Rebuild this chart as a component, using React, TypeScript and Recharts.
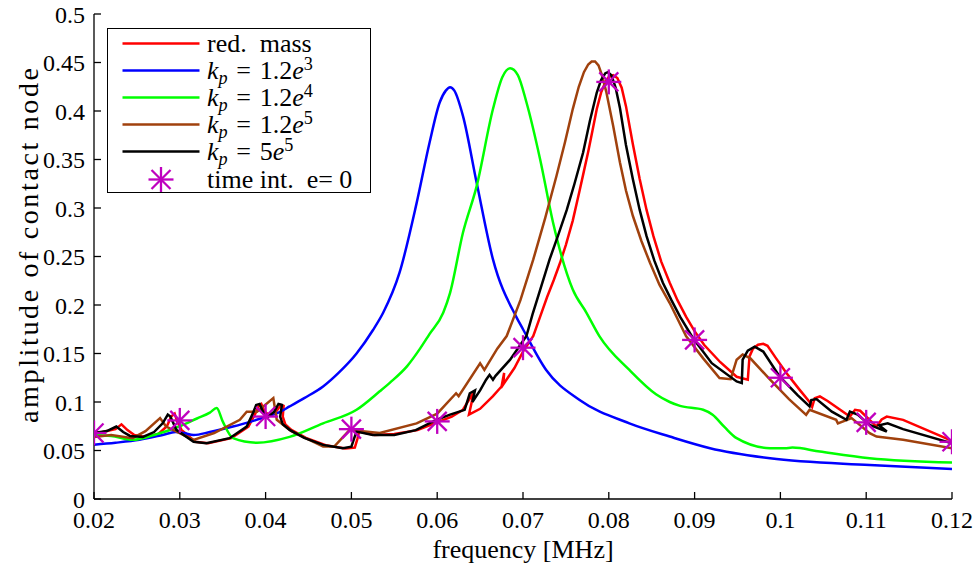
import React from 'react';
import { ComposedChart, Line, Scatter, XAxis, YAxis } from 'recharts';

const FONT = "'Liberation Serif', 'DejaVu Serif', serif";

// [frequency MHz, amplitude]
const redMass: [number, number][] = [
  [0.02, 0.068], [0.021, 0.069], [0.0225, 0.072], [0.0232, 0.077], [0.0239, 0.071], [0.0247, 0.066],
  [0.026, 0.064], [0.0275, 0.067], [0.0285, 0.075], [0.029, 0.085], [0.0294, 0.088], [0.0297, 0.08],
  [0.0302, 0.0713], [0.0318, 0.059], [0.0333, 0.0575], [0.036, 0.0627], [0.038, 0.0747], [0.0388, 0.088],
  [0.0392, 0.096], [0.0395, 0.098], [0.0399, 0.09], [0.0405, 0.086], [0.0412, 0.09], [0.0418, 0.097],
  [0.0421, 0.096], [0.042, 0.085], [0.0423, 0.077], [0.043, 0.0713], [0.0447, 0.063], [0.047, 0.0555],
  [0.0493, 0.052], [0.0504, 0.053], [0.0507, 0.062], [0.0509, 0.0695], [0.0527, 0.066], [0.055, 0.067],
  [0.0577, 0.071], [0.06, 0.079], [0.0617, 0.085], [0.063, 0.092], [0.0643, 0.111], [0.0637, 0.087],
  [0.065, 0.093], [0.0665, 0.106], [0.0675, 0.116], [0.0678, 0.13], [0.0677, 0.118], [0.069, 0.135],
  [0.07, 0.152], [0.0712, 0.168], [0.072, 0.188], [0.0728, 0.208], [0.0736, 0.226], [0.0743, 0.243],
  [0.075, 0.262], [0.0758, 0.287], [0.0766, 0.318], [0.0771, 0.338], [0.0776, 0.358], [0.0781, 0.38],
  [0.0786, 0.402], [0.0791, 0.419], [0.0796, 0.43], [0.08, 0.435], [0.0805, 0.437], [0.081, 0.434],
  [0.0815, 0.424], [0.082, 0.405], [0.0828, 0.366], [0.0836, 0.33], [0.0844, 0.298], [0.0852, 0.271],
  [0.0861, 0.245], [0.0871, 0.223], [0.088, 0.205], [0.089, 0.188], [0.09, 0.173], [0.0911, 0.159],
  [0.093, 0.141], [0.0949, 0.126], [0.0962, 0.123], [0.0964, 0.147], [0.0968, 0.155], [0.0974, 0.159],
  [0.098, 0.16], [0.0985, 0.158], [0.0995, 0.145], [0.1007, 0.13], [0.1022, 0.113], [0.1034, 0.1],
  [0.1037, 0.095], [0.104, 0.104], [0.1046, 0.1057], [0.1055, 0.101], [0.1081, 0.085], [0.1087, 0.092],
  [0.1093, 0.091], [0.1112, 0.0747], [0.1118, 0.082], [0.1124, 0.085], [0.1143, 0.0816], [0.12, 0.06],
];

const kp12e3: [number, number][] = [
  [0.02, 0.056], [0.0225, 0.058], [0.0253, 0.061], [0.028, 0.066], [0.0295, 0.069], [0.0305, 0.068],
  [0.0316, 0.066], [0.0335, 0.069], [0.0362, 0.0747], [0.038, 0.079], [0.0399, 0.0844], [0.0415, 0.089],
  [0.0428, 0.0954], [0.0445, 0.104], [0.0467, 0.116], [0.0485, 0.13], [0.0506, 0.15], [0.0525, 0.174],
  [0.0537, 0.192], [0.0556, 0.233], [0.0576, 0.305], [0.0591, 0.367], [0.0603, 0.409], [0.061, 0.421],
  [0.0615, 0.4245], [0.062, 0.421], [0.063, 0.395], [0.0646, 0.326], [0.0665, 0.247], [0.0692, 0.188],
  [0.07, 0.175], [0.0727, 0.133], [0.0766, 0.102], [0.0824, 0.078], [0.0871, 0.0644], [0.0918, 0.0524],
  [0.0988, 0.042], [0.1104, 0.0351], [0.12, 0.031],
];

const kp12e4: [number, number][] = [
  [0.02, 0.066], [0.022, 0.065], [0.0245, 0.061], [0.027, 0.066], [0.03, 0.075], [0.032, 0.083],
  [0.0335, 0.089], [0.0343, 0.0937], [0.035, 0.08], [0.0362, 0.0627], [0.039, 0.058], [0.0428, 0.064],
  [0.0467, 0.078], [0.0506, 0.092], [0.0533, 0.111], [0.0545, 0.12], [0.0565, 0.137], [0.058, 0.155],
  [0.0591, 0.17], [0.0607, 0.192], [0.0615, 0.2125], [0.063, 0.2745], [0.0646, 0.3226], [0.0665, 0.402],
  [0.0676, 0.435], [0.0685, 0.444], [0.0694, 0.437], [0.0704, 0.409], [0.072, 0.35], [0.0735, 0.285],
  [0.0758, 0.216], [0.0774, 0.192], [0.0789, 0.168], [0.0824, 0.133], [0.0855, 0.108], [0.0871, 0.1],
  [0.0883, 0.096], [0.091, 0.092], [0.0921, 0.0868], [0.0935, 0.074], [0.0949, 0.0627], [0.0988, 0.0524],
  [0.1005, 0.0522], [0.1014, 0.053], [0.1046, 0.0489], [0.1104, 0.042], [0.12, 0.0375],
];

const kp12e5: [number, number][] = [
  [0.02, 0.064], [0.022, 0.066], [0.0245, 0.0627], [0.026, 0.07], [0.0277, 0.0834], [0.0284, 0.0747],
  [0.0295, 0.07], [0.0316, 0.061], [0.034, 0.068], [0.037, 0.0816], [0.0378, 0.09], [0.039, 0.09],
  [0.0409, 0.104], [0.0413, 0.0816], [0.043, 0.07], [0.0467, 0.054], [0.048, 0.054], [0.0498, 0.0713],
  [0.051, 0.07], [0.0533, 0.068], [0.0576, 0.078], [0.06, 0.088], [0.0622, 0.109], [0.0625, 0.106],
  [0.065, 0.14], [0.0655, 0.133], [0.067, 0.155], [0.0681, 0.168], [0.0697, 0.205], [0.0712, 0.247],
  [0.0726, 0.29], [0.0739, 0.333], [0.0749, 0.368], [0.0758, 0.402], [0.0765, 0.425], [0.0771, 0.44],
  [0.0776, 0.448], [0.078, 0.451], [0.0784, 0.451], [0.0788, 0.447], [0.0792, 0.437], [0.0797, 0.42],
  [0.0805, 0.385], [0.0813, 0.347], [0.082, 0.318], [0.0828, 0.292], [0.0838, 0.266], [0.0848, 0.2435],
  [0.0859, 0.221], [0.0871, 0.202], [0.089, 0.168], [0.091, 0.145], [0.0929, 0.1247], [0.0942, 0.1235],
  [0.0949, 0.1436], [0.0956, 0.149], [0.0965, 0.145], [0.0988, 0.123], [0.101, 0.103], [0.103, 0.0868],
  [0.1034, 0.092], [0.1065, 0.0816], [0.1067, 0.078], [0.1083, 0.0834], [0.1104, 0.0679], [0.1112, 0.0644],
  [0.1143, 0.061], [0.12, 0.0524],
];

const kp5e5: [number, number][] = [
  [0.02, 0.068], [0.0215, 0.07], [0.0226, 0.0747], [0.0234, 0.069], [0.0242, 0.065], [0.0257, 0.064],
  [0.027, 0.069], [0.028, 0.078], [0.0286, 0.087], [0.0289, 0.085], [0.0296, 0.0713], [0.0316, 0.059],
  [0.0331, 0.0575], [0.0358, 0.0627], [0.0378, 0.0747], [0.0385, 0.088], [0.0389, 0.097], [0.0393, 0.098],
  [0.0397, 0.09], [0.0403, 0.085], [0.041, 0.09], [0.0415, 0.098], [0.0419, 0.097], [0.0417, 0.085],
  [0.042, 0.077], [0.0428, 0.0713], [0.0445, 0.063], [0.0467, 0.0558], [0.049, 0.0524], [0.05, 0.054],
  [0.0503, 0.062], [0.0506, 0.0695], [0.0525, 0.066], [0.055, 0.066], [0.0575, 0.071], [0.0599, 0.0816],
  [0.0615, 0.087], [0.0632, 0.0919], [0.0638, 0.109], [0.0644, 0.112], [0.0641, 0.1], [0.065, 0.112],
  [0.0657, 0.123], [0.0661, 0.128], [0.0665, 0.123], [0.0668, 0.127], [0.0685, 0.1436], [0.0704, 0.168],
  [0.0711, 0.19], [0.0718, 0.21], [0.0731, 0.247], [0.0741, 0.272], [0.0751, 0.298], [0.076, 0.325],
  [0.077, 0.357], [0.0778, 0.39], [0.0786, 0.419], [0.0791, 0.432], [0.0796, 0.439], [0.0799, 0.44],
  [0.0803, 0.437], [0.0808, 0.424], [0.0813, 0.403], [0.082, 0.365], [0.0828, 0.33], [0.0836, 0.298],
  [0.0844, 0.271], [0.0853, 0.246], [0.0863, 0.223], [0.0873, 0.205], [0.0883, 0.188], [0.0898, 0.166],
  [0.092, 0.14], [0.0949, 0.1212], [0.0955, 0.1195], [0.0956, 0.1436], [0.0962, 0.153], [0.097, 0.157],
  [0.098, 0.152], [0.0999, 0.1263], [0.102, 0.107], [0.1034, 0.0954], [0.1036, 0.102], [0.1042, 0.103],
  [0.106, 0.09], [0.1077, 0.0816], [0.1081, 0.09], [0.109, 0.087], [0.1104, 0.0764], [0.1124, 0.0695],
  [0.1115, 0.076], [0.1125, 0.078], [0.1143, 0.072], [0.12, 0.0575],
];

const timeIntX = [0.02, 0.03, 0.04, 0.05, 0.06, 0.07, 0.08, 0.09, 0.1, 0.11, 0.12];
const timeIntY = [0.068, 0.081, 0.085, 0.072, 0.08, 0.156, 0.43, 0.164, 0.125, 0.079, 0.059];

const xTicks = [0.02, 0.03, 0.04, 0.05, 0.06, 0.07, 0.08, 0.09, 0.1, 0.11, 0.12];
const xTickLabels = ['0.02', '0.03', '0.04', '0.05', '0.06', '0.07', '0.08', '0.09', '0.1', '0.11', '0.12'];
const yTicks = [0, 0.05, 0.1, 0.15, 0.2, 0.25, 0.3, 0.35, 0.4, 0.45, 0.5];
const yTickLabels = ['0', '0.05', '0.1', '0.15', '0.2', '0.25', '0.3', '0.35', '0.4', '0.45', '0.5'];

const COLORS = {
  red: '#FF0000',
  blue: '#0000FF',
  green: '#00FF00',
  brown: '#A0410D',
  black: '#000000',
  magenta: '#BF00BF',
};

const LINE_W = 2.5;

const toXY = (arr: [number, number][]) => arr.map(([x, y]) => ({ x, y }));
const stars = timeIntX.map((x, i) => ({ x, y: timeIntY[i] }));

const fmtX = (v: number) => {
  const i = xTicks.findIndex((t) => Math.abs(t - v) < 1e-9);
  return i >= 0 ? xTickLabels[i] : String(v);
};
const fmtY = (v: number) => {
  const i = yTicks.findIndex((t) => Math.abs(t - v) < 1e-9);
  return i >= 0 ? yTickLabels[i] : String(v);
};

const StarShape = (props: any) => {
  const { cx, cy } = props;
  if (cx == null || cy == null) return null;
  const r = 12.5;
  const d = 9.5;
  return (
    <g stroke={COLORS.magenta} strokeWidth={2.3} fill="none">
      <line x1={cx - r} y1={cy} x2={cx + r} y2={cy} />
      <line x1={cx} y1={cy - r} x2={cx} y2={cy + r} />
      <line x1={cx - d} y1={cy - d} x2={cx + d} y2={cy + d} />
      <line x1={cx - d} y1={cy + d} x2={cx + d} y2={cy - d} />
    </g>
  );
};

const YLabel = (props: any) => {
  const vb = props.viewBox || {};
  const cx = vb.x + 28;
  const cy = vb.y + vb.height / 2 - 11;
  return (
    <text
      x={cx}
      y={cy}
      transform={`rotate(-90, ${cx}, ${cy})`}
      textAnchor="middle"
      dominantBaseline="central"
      fontFamily={FONT}
      fontSize={28}
      textLength={355}
      lengthAdjust="spacing"
      fill="#000"
    >
      amplitude of contact node
    </text>
  );
};

const XLabel = (props: any) => {
  const vb = props.viewBox || {};
  const cx = vb.x + vb.width / 2;
  const y = vb.y + 59;
  return (
    <text x={cx} y={y} textAnchor="middle" fontFamily={FONT} fontSize={26} fill="#000">
      frequency [MHz]
    </text>
  );
};

const kp = (mant: string, exp: string) => (
  <span>
    <i>k</i>
    <sub style={{ fontSize: '0.7em', fontStyle: 'italic', verticalAlign: '-0.25em', lineHeight: 0 }}>p</sub>
    {'\u2004=\u2004'}
    {mant}
    <i>e</i>
    <sup style={{ fontSize: '0.7em', verticalAlign: '0.5em', lineHeight: 0 }}>{exp}</sup>
  </span>
);

const legendItems = [
  { color: COLORS.red, label: <span>red.&nbsp; mass</span>, star: false },
  { color: COLORS.blue, label: kp('1.2', '3'), star: false },
  { color: COLORS.green, label: kp('1.2', '4'), star: false },
  { color: COLORS.brown, label: kp('1.2', '5'), star: false },
  { color: COLORS.black, label: kp('5', '5'), star: false },
  { color: COLORS.magenta, label: <span>time int.&nbsp; e= 0</span>, star: true },
];

const LegendBox = () => (
  <div
    style={{
      position: 'absolute',
      left: 107,
      top: 28,
      width: 264,
      height: 165,
      border: '1.5px solid #000',
      boxSizing: 'border-box',
      background: '#fff',
      fontFamily: FONT,
      fontSize: 26,
      color: '#000',
    }}
  >
    {legendItems.map((it, i) => (
      <div
        key={i}
        style={{
          position: 'absolute',
          left: 0,
          top: 1 + i * 27.1,
          height: 27,
          display: 'flex',
          alignItems: 'center',
          whiteSpace: 'nowrap',
          lineHeight: '27px',
        }}
      >
        <svg width={99} height={27} style={{ display: 'block', flex: 'none' }}>
          {it.star ? (
            <StarShape cx={53} cy={13.5} />
          ) : (
            <line x1={14.5} y1={13.5} x2={91.5} y2={13.5} stroke={it.color} strokeWidth={LINE_W} />
          )}
        </svg>
        {it.label}
      </div>
    ))}
  </div>
);

export default function App() {
  const axisLine = { stroke: '#000', strokeWidth: 1.3 };
  const tickLine = { stroke: '#000', strokeWidth: 1.3 };
  const tickStyle = { fontSize: 24, fontFamily: FONT, fill: '#000' };
  return (
    <div style={{ position: 'absolute', left: 0, top: 0, width: 974, height: 572, background: '#fff' }}>
      <ComposedChart width={974} height={572} margin={{ top: 14, right: 22, bottom: 0, left: 0 }}>
        <XAxis
          xAxisId="bottom"
          dataKey="x"
          type="number"
          domain={[0.02, 0.12]}
          ticks={xTicks}
          tickFormatter={fmtX}
          allowDataOverflow
          height={73}
          axisLine={axisLine}
          tickLine={tickLine}
          tickSize={-7}
          tickMargin={19}
          tick={tickStyle}
          interval={0}
          label={<XLabel />}
        />
        <XAxis
          xAxisId="top"
          orientation="top"
          dataKey="x"
          type="number"
          domain={[0.02, 0.12]}
          ticks={xTicks}
          tickFormatter={() => ''}
          allowDataOverflow
          height={0}
          axisLine={axisLine}
          tickLine={tickLine}
          tickSize={-7}
          interval={0}
        />
        <YAxis
          yAxisId="left"
          type="number"
          domain={[0, 0.5]}
          ticks={yTicks}
          tickFormatter={fmtY}
          allowDataOverflow
          width={94}
          axisLine={axisLine}
          tickLine={tickLine}
          tickSize={-7}
          tickMargin={16}
          tick={tickStyle}
          interval={0}
          label={<YLabel />}
        />
        <YAxis
          yAxisId="right"
          orientation="right"
          type="number"
          domain={[0, 0.5]}
          ticks={yTicks}
          tickFormatter={() => ''}
          allowDataOverflow
          width={0}
          axisLine={axisLine}
          tickLine={tickLine}
          tickSize={-7}
          interval={0}
        />
        <Line xAxisId="bottom" yAxisId="left" data={toXY(redMass)} dataKey="y" type="linear" stroke={COLORS.red} strokeWidth={LINE_W} dot={false} isAnimationActive={false} />
        <Line xAxisId="bottom" yAxisId="left" data={toXY(kp12e3)} dataKey="y" type="monotone" stroke={COLORS.blue} strokeWidth={LINE_W} dot={false} isAnimationActive={false} />
        <Line xAxisId="bottom" yAxisId="left" data={toXY(kp12e4)} dataKey="y" type="monotone" stroke={COLORS.green} strokeWidth={LINE_W} dot={false} isAnimationActive={false} />
        <Line xAxisId="bottom" yAxisId="left" data={toXY(kp12e5)} dataKey="y" type="linear" stroke={COLORS.brown} strokeWidth={LINE_W} dot={false} isAnimationActive={false} />
        <Line xAxisId="bottom" yAxisId="left" data={toXY(kp5e5)} dataKey="y" type="linear" stroke={COLORS.black} strokeWidth={LINE_W} dot={false} isAnimationActive={false} />
        <Scatter xAxisId="top" yAxisId="right" data={stars} dataKey="y" shape={<StarShape />} isAnimationActive={false} />
      </ComposedChart>
      <LegendBox />
    </div>
  );
}
